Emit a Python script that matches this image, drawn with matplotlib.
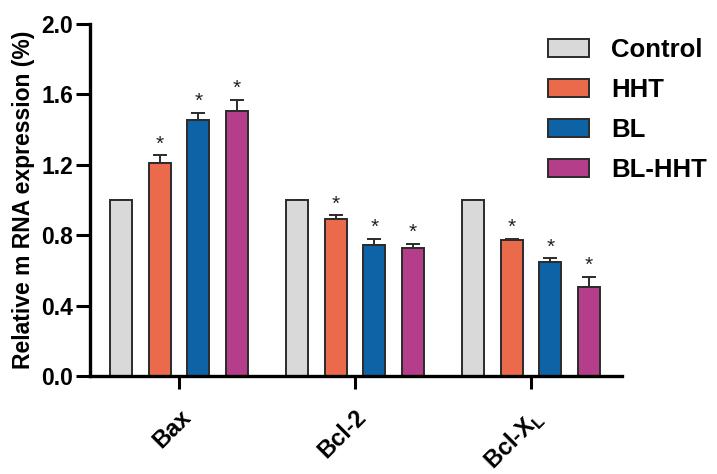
import matplotlib
matplotlib.use("Agg")
import matplotlib.pyplot as plt
import numpy as np

plt.rcParams['font.family'] = ['Liberation Sans', 'DejaVu Sans']
plt.rcParams['font.weight'] = 'bold'
plt.rcParams['mathtext.fontset'] = 'custom'
plt.rcParams['mathtext.rm'] = 'Liberation Sans:bold'
plt.rcParams['mathtext.bf'] = 'Liberation Sans:bold'

genes = ['Bax', 'Bcl-2', r'Bcl-X$_{\rm L}$']
groups = ['Control', 'HHT', 'BL', 'BL-HHT']
values = {
    'Control': [1.0, 1.0, 1.0],
    'HHT':     [1.21, 0.89, 0.77],
    'BL':      [1.455, 0.745, 0.65],
    'BL-HHT':  [1.505, 0.725, 0.505],
}
errors = {
    'Control': [0.0, 0.0, 0.0],
    'HHT':     [0.045, 0.022, 0.01],
    'BL':      [0.04, 0.035, 0.018],
    'BL-HHT':  [0.065, 0.025, 0.058],
}
significant = {
    'Control': [False, False, False],
    'HHT':     [True, True, True],
    'BL':      [True, True, True],
    'BL-HHT':  [True, True, True],
}
colors = {'Control': '#d9d9d9', 'HHT': '#ec6a4c', 'BL': '#0e62a6', 'BL-HHT': '#b43e89'}
yticks = [0.0, 0.4, 0.8, 1.2, 1.6, 2.0]

fig = plt.figure(figsize=(7.17, 4.74), dpi=100)
ax = fig.add_axes([90/717, 1-376/474, (622-90)/717, (376-24)/474])

x = np.arange(len(genes))
spacing = 0.22
width = 0.125
offsets = (np.arange(len(groups)) - 1.5) * spacing
for i, g in enumerate(groups):
    pos = x + offsets[i]
    ax.bar(pos, values[g], width=width, color=colors[g], edgecolor='#2b2b2b',
           linewidth=1.4, label=g, zorder=2)
    yerr = np.array(errors[g])
    ax.errorbar(pos, values[g], yerr=[np.zeros_like(yerr), yerr], fmt='none',
                ecolor='#2b2b2b', elinewidth=1.4, capsize=5, capthick=1.4, zorder=1)
    for p, v, e, s in zip(pos, values[g], yerr, significant[g]):
        if s:
            ax.text(p, v + e + 0.010, '*', ha='center', va='bottom',
                    fontsize=15, fontweight='normal', color='#222222')

ax.set_xlim(-0.506, 2.517)
ax.set_ylim(0, 2.0)
ax.set_yticks(yticks)
ax.set_yticklabels([f'{t:.1f}' for t in yticks], fontsize=16.5, fontweight='bold')
ax.set_xticks(x)
ax.set_xticklabels(genes, rotation=45, ha='right', rotation_mode='anchor',
                   fontsize=17, fontweight='bold')
ax.tick_params(axis='x', length=9, width=2.2, pad=12)
ax.tick_params(axis='y', length=10, width=2.2, pad=2)
for s in ['top', 'right']:
    ax.spines[s].set_visible(False)
for s in ['left', 'bottom']:
    ax.spines[s].set_linewidth(2.4)
ax.set_ylabel('Relative m RNA expression (%)', fontsize=16.5, fontweight='bold', labelpad=5)

fig.legend(loc='upper left', bbox_to_anchor=(548/717, 1-38/474), frameon=False,
           handlelength=1.6, handleheight=0.7, handletextpad=0.85,
           labelspacing=0.62, borderpad=0, borderaxespad=0,
           prop={'weight': 'bold', 'size': 18.5})

fig.savefig('out.png', dpi=100)
